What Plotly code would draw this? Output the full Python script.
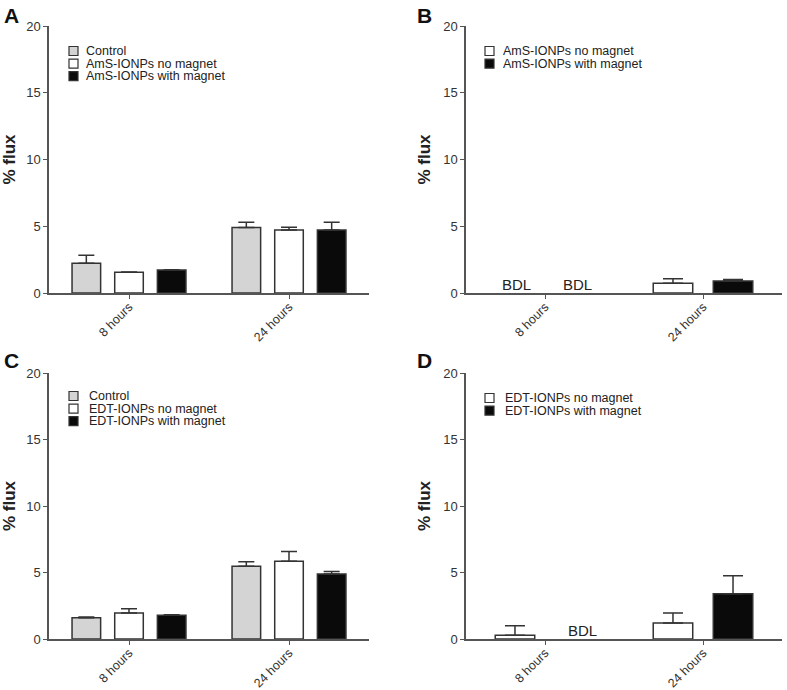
import plotly.graph_objects as go

categories = ["8 hours", "24 hours"]

# Panel A
a_control = [2.22, 4.90]
a_control_err = [0.60, 0.40]
a_nomag = [1.55, 4.72]
a_nomag_err = [0.03, 0.20]
a_mag = [1.72, 4.72]
a_mag_err = [0.03, 0.58]

# Panel B (8 hours BDL)
b_nomag = [None, 0.73]
b_nomag_err = [0, 0.34]
b_mag = [None, 0.90]
b_mag_err = [0, 0.12]

# Panel C
c_control = [1.60, 5.47]
c_control_err = [0.05, 0.33]
c_nomag = [1.95, 5.84]
c_nomag_err = [0.33, 0.73]
c_mag = [1.78, 4.89]
c_mag_err = [0.04, 0.18]

# Panel D (8 hours with magnet BDL)
d_nomag = [0.28, 1.20]
d_nomag_err = [0.72, 0.75]
d_mag = [None, 3.40]
d_mag_err = [0, 1.35]

legend_a = ["Control", "AmS-IONPs no magnet", "AmS-IONPs with magnet"]
legend_b = ["AmS-IONPs no magnet", "AmS-IONPs with magnet"]
legend_c = ["Control", "EDT-IONPs no magnet", "EDT-IONPs with magnet"]
legend_d = ["EDT-IONPs no magnet", "EDT-IONPs with magnet"]

FONT = "Liberation Sans, Arial, sans-serif"
OUT = "#333333"
FILLS = {"control": "#d4d4d4", "nomag": "#ffffff", "mag": "#0a0a0a"}

fig = go.Figure()


def add_bar(name, y, err, kind, xa, ya, capw):
    fig.add_trace(go.Bar(
        x=categories, y=y, name=name, showlegend=False,
        marker=dict(color=FILLS[kind], line=dict(color=OUT, width=1.5)),
        error_y=dict(type="data", array=err, arrayminus=[0] * len(err),
                     symmetric=False, color=OUT, thickness=1.5, width=capw),
        xaxis=xa, yaxis=ya, offsetgroup=kind + xa,
    ))


add_bar(legend_a[0], a_control, a_control_err, "control", "x", "y", 8)
add_bar(legend_a[1], a_nomag, a_nomag_err, "nomag", "x", "y", 8)
add_bar(legend_a[2], a_mag, a_mag_err, "mag", "x", "y", 8)

add_bar(legend_b[0], b_nomag, b_nomag_err, "nomag", "x2", "y2", 10)
add_bar(legend_b[1], b_mag, b_mag_err, "mag", "x2", "y2", 10)

add_bar(legend_c[0], c_control, c_control_err, "control", "x3", "y3", 8)
add_bar(legend_c[1], c_nomag, c_nomag_err, "nomag", "x3", "y3", 8)
add_bar(legend_c[2], c_mag, c_mag_err, "mag", "x3", "y3", 8)

add_bar(legend_d[0], d_nomag, d_nomag_err, "nomag", "x4", "y4", 10)
add_bar(legend_d[1], d_mag, d_mag_err, "mag", "x4", "y4", 10)

W, H = 787, 690
xdom_l = [49 / W, 369 / W]
xdom_r = [466 / W, 782 / W]
ydom_t = [1 - 293 / H, 1 - 26 / H]
ydom_b = [1 - 639 / H, 1 - 373 / H]

axis_common = dict(showline=True, linecolor="#555555", linewidth=1.5,
                   ticks="outside", ticklen=5, tickwidth=1.2, tickcolor="#555555",
                   showgrid=False, zeroline=False, automargin=False,
                   tickfont=dict(family=FONT, size=13, color="#333333"))

xax = dict(axis_common, type="category", range=[-0.5, 1.5], tickangle=-45,
           ticklen=4, ticklabelstandoff=-4,
           tickfont=dict(family=FONT, size=12.5, color="#333333"))
yax = dict(axis_common, range=[0, 20], tickvals=[0, 5, 10, 15, 20], ticklen=4,
           title=dict(text="<b>% flux</b>", font=dict(family=FONT, size=17, color="#222222"),
                      standoff=8))

layout = dict(
    width=W, height=H, margin=dict(l=0, r=0, t=0, b=0, autoexpand=False),
    paper_bgcolor="white", plot_bgcolor="white",
    font=dict(family=FONT, color="#222222"),
    barmode="group", showlegend=False,
    xaxis=dict(xax, domain=xdom_l, anchor="y"),
    yaxis=dict(yax, domain=ydom_t, anchor="x"),
    xaxis2=dict(xax, domain=xdom_r, anchor="y2"),
    yaxis2=dict(yax, domain=ydom_t, anchor="x2"),
    xaxis3=dict(xax, domain=xdom_l, anchor="y3"),
    yaxis3=dict(yax, domain=ydom_b, anchor="x3"),
    xaxis4=dict(xax, domain=xdom_r, anchor="y4"),
    yaxis4=dict(yax, domain=ydom_b, anchor="x4"),
)

fig.update_layout(**layout)
fig.update_layout(bargap=0.2, bargroupgap=0.33)

# Per-panel bar widths for two-series panels
for tr in fig.data:
    if tr.xaxis in ("x2", "x4"):
        tr.width = 0.25
        tr.offset = -0.315 if tr.offsetgroup.startswith("nomag") else 0.065

annotations = []
shapes = []
for txt, xp, yp in [("A", 2 / W, 1 - 2 / H), ("B", 415 / W, 1 - 2 / H),
                    ("C", 2 / W, 1 - 347 / H), ("D", 415 / W, 1 - 347 / H)]:
    annotations.append(dict(text="<b>" + txt + "</b>", x=xp, y=yp, xref="paper", yref="paper",
                            xanchor="left", yanchor="top", showarrow=False,
                            font=dict(family=FONT, size=21, color="#111111")))

bdl_font = dict(family=FONT, size=15, color="#222222")
for xa, ya, pos, xs in [("x2", "y2", -0.19, 2), ("x2", "y2", 0.19, 2), ("x4", "y4", 0.19, 7)]:
    annotations.append(dict(text="BDL", x=pos, y=0, xref=xa, yref=ya, xanchor="center",
                            yanchor="bottom", showarrow=False, font=bdl_font, yshift=-2,
                            xshift=xs))

# Legends (square swatch + label), positions in pixels
kinds3 = ["control", "nomag", "mag"]
kinds2 = ["nomag", "mag"]
legend_specs = [
    (legend_a, kinds3, 69, 51, 84),
    (legend_b, kinds2, 485, 51, 501),
    (legend_c, kinds3, 69, 396, 87),
    (legend_d, kinds2, 485, 398, 503),
]
for labels, kinds, sx, cy0, tx in legend_specs:
    for i, (lab, k) in enumerate(zip(labels, kinds)):
        cy = cy0 + i * 12.6
        shapes.append(dict(type="rect", xref="paper", yref="paper",
                           x0=sx / W, x1=(sx + 9) / W,
                           y0=1 - (cy - 4.5) / H, y1=1 - (cy + 4.5) / H,
                           fillcolor=FILLS[k], line=dict(color=OUT, width=1.2)))
        annotations.append(dict(text=lab, x=tx / W, y=1 - cy / H, xref="paper", yref="paper",
                                xanchor="left", yanchor="middle", showarrow=False,
                                font=dict(family=FONT, size=12.5, color="#222222")))

fig.update_layout(annotations=annotations, shapes=shapes)

fig.write_html("out.html", config={"displayModeBar": False},
               post_script="document.body.style.margin='0';document.body.style.overflow='hidden';")
